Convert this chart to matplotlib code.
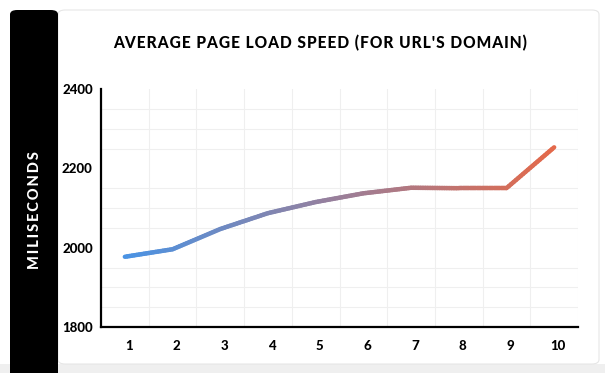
import numpy as np
import matplotlib.pyplot as plt
from matplotlib.collections import LineCollection
from matplotlib.colors import LinearSegmentedColormap
from matplotlib.patches import FancyBboxPatch, Rectangle
from matplotlib.transforms import ScaledTranslation

positions = [1, 2, 3, 4, 5, 6, 7, 8, 9, 10]
load_ms = [1977, 1996, 2047, 2087, 2115, 2137, 2151, 2150, 2150, 2253]
y_ticks = [1800, 2000, 2200, 2400]
title = "AVERAGE PAGE LOAD SPEED (FOR URL'S DOMAIN)"
ylabel = "MILISECONDS"

W, H = 605, 373
fig = plt.figure(figsize=(W / 100, H / 100), dpi=100)
fig.patch.set_facecolor('white')

# background pieces: grey strip, card, black side bar
fig.patches.append(Rectangle((0, 0), 1, 9 / H, transform=fig.transFigure,
                             facecolor='#efefef', edgecolor='none', zorder=-3))
fig.patches.append(FancyBboxPatch((58 / W, 9 / H), 541 / W, 354 / H,
                                  boxstyle='round,pad=0,rounding_size=0.012',
                                  transform=fig.transFigure, facecolor='white',
                                  edgecolor='#e6e6e6', linewidth=0.8, zorder=-2))
fig.patches.append(FancyBboxPatch((10 / W, -10 / H), 48 / W, 373 / H,
                                  boxstyle='round,pad=0,rounding_size=0.012',
                                  transform=fig.transFigure, facecolor='black',
                                  edgecolor='none', zorder=-1))

ax = fig.add_axes([101 / W, (H - 327) / H, (578 - 101) / W, (327 - 89) / H])
ax.set_zorder(5)
ax.set_facecolor('none')

x = np.array(positions, dtype=float)
y = np.array(load_ms, dtype=float)
# split each segment into small pieces so the colour can fade along x
xs, ys = [], []
for i in range(len(x) - 1):
    t = np.linspace(0, 1, 20, endpoint=False)
    xs.extend(x[i] + (x[i + 1] - x[i]) * t)
    ys.extend(y[i] + (y[i + 1] - y[i]) * t)
xs.append(x[-1])
ys.append(y[-1])
pts = np.column_stack([xs, ys]).reshape(-1, 1, 2)
segs = np.concatenate([pts[:-1], pts[1:]], axis=1)
cmap = LinearSegmentedColormap.from_list('fade', ['#4a93e4', '#9a7f9a', '#e4694a'])
lc = LineCollection(segs, cmap=cmap, linewidth=3.2, capstyle='round', zorder=3)
lc.set_array(np.array(xs[:-1]))
lc.set_clim(1, 10)
ax.add_collection(lc)

ax.set_xlim(0.5, 10.5)
ax.set_ylim(1800, 2400)
ax.set_xticks(positions)
ax.set_yticks(y_ticks)
ax.set_xticks(np.arange(0.5, 10.51, 0.5), minor=True)
ax.set_yticks(np.arange(1800, 2401, 50), minor=True)
ax.grid(which='minor', color='#efefef', linewidth=0.8)
ax.tick_params(which='both', length=0)
ax.tick_params(axis='x', pad=9)
ax.tick_params(axis='y', pad=6)
shift = ScaledTranslation(4 / 100, 0, fig.dpi_scale_trans)
for lab in ax.get_xticklabels():
    lab.set_transform(lab.get_transform() + shift)
for lab in ax.get_xticklabels() + ax.get_yticklabels():
    lab.set_fontfamily('Lato')
    lab.set_fontweight('black')
    lab.set_fontsize(9.5)
for s in ['top', 'right']:
    ax.spines[s].set_visible(False)
for s in ['left', 'bottom']:
    ax.spines[s].set_linewidth(1.6)
    ax.spines[s].set_color('black')

spaced = lambda s: '\u200a'.join(s)
fig.text(320 / W, 1 - 43 / H, spaced(title), ha='center', va='center',
         fontfamily=['Lato', 'DejaVu Sans'], fontweight='black', fontsize=11.2)
fig.text(35 / W, 1 - 210 / H, '\u2009'.join(ylabel), ha='center', va='center',
         rotation=90, color='white', fontfamily=['Lato', 'DejaVu Sans'],
         fontweight='black', fontsize=10.5)

fig.savefig('out.png', dpi=100)
